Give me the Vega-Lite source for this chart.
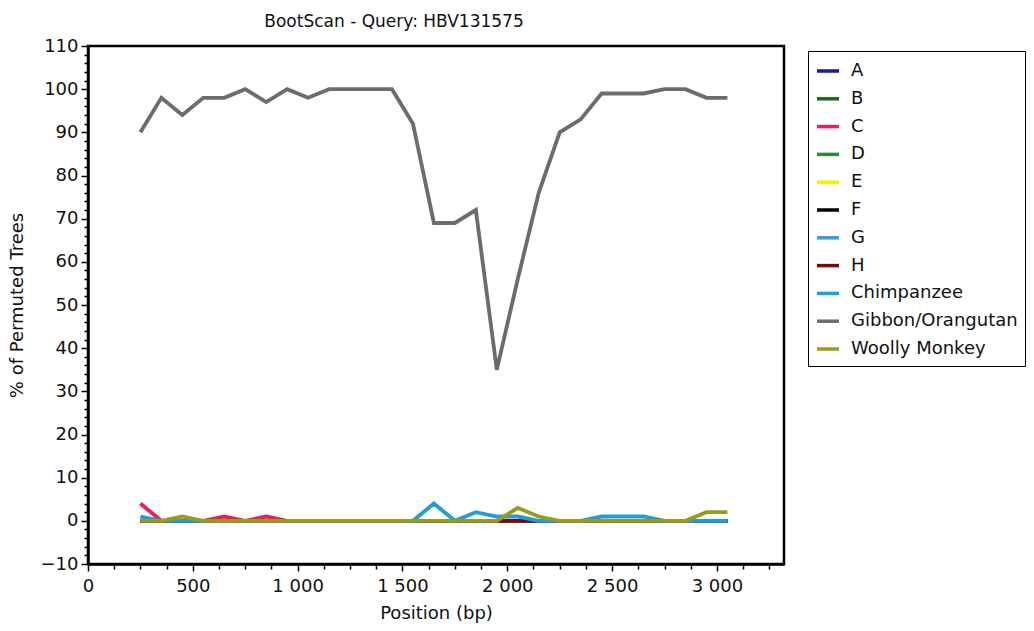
{
  "$schema": "https://vega.github.io/schema/vega-lite/v6.json",
  "autosize": {"type": "none"},
  "padding": {"left": 88, "top": 46, "right": 250, "bottom": 67},
  "width": 696,
  "height": 518,
  "background": "white",
  "title": {"text": "BootScan - Query: HBV131575", "font": "DejaVu Sans", "fontSize": 17, "fontWeight": "normal", "color": "#111", "anchor": "middle", "dx": -42, "offset": 6},
  "config": {
    "view": {"stroke": "black", "strokeWidth": 2.5},
    "font": "DejaVu Sans",
    "axis": {"grid": false, "domainColor": "black", "domainWidth": 2.5, "tickColor": "black", "tickWidth": 1.5, "labelFont": "DejaVu Sans", "labelFontSize": 18, "labelColor": "#111", "titleFont": "DejaVu Sans", "titleFontSize": 18, "titleFontWeight": "normal", "titleColor": "#111"},
    "legend": {"labelFont": "DejaVu Sans", "labelFontSize": 18, "labelColor": "#111"}
  },
  "data": {"values": [
    {"pos": 250, "A": 0, "B": 0, "C": 4, "D": 0, "E": 0, "F": 0, "G": 0, "H": 0, "Chimpanzee": 1, "Gibbon/Orangutan": 90, "Woolly Monkey": 0},
    {"pos": 350, "A": 0, "B": 0, "C": 0, "D": 0, "E": 0, "F": 0, "G": 0, "H": 0, "Chimpanzee": 0, "Gibbon/Orangutan": 98, "Woolly Monkey": 0},
    {"pos": 450, "A": 0, "B": 0, "C": 0, "D": 0, "E": 0, "F": 0, "G": 0, "H": 0, "Chimpanzee": 0, "Gibbon/Orangutan": 94, "Woolly Monkey": 1},
    {"pos": 550, "A": 0, "B": 0, "C": 0, "D": 0, "E": 0, "F": 0, "G": 0, "H": 0, "Chimpanzee": 0, "Gibbon/Orangutan": 98, "Woolly Monkey": 0},
    {"pos": 650, "A": 0, "B": 0, "C": 1, "D": 0, "E": 0, "F": 0, "G": 0, "H": 0, "Chimpanzee": 0, "Gibbon/Orangutan": 98, "Woolly Monkey": 0},
    {"pos": 750, "A": 0, "B": 0, "C": 0, "D": 0, "E": 0, "F": 0, "G": 0, "H": 0, "Chimpanzee": 0, "Gibbon/Orangutan": 100, "Woolly Monkey": 0},
    {"pos": 850, "A": 0, "B": 0, "C": 1, "D": 0, "E": 0, "F": 0, "G": 0, "H": 0, "Chimpanzee": 0, "Gibbon/Orangutan": 97, "Woolly Monkey": 0},
    {"pos": 950, "A": 0, "B": 0, "C": 0, "D": 0, "E": 0, "F": 0, "G": 0, "H": 0, "Chimpanzee": 0, "Gibbon/Orangutan": 100, "Woolly Monkey": 0},
    {"pos": 1050, "A": 0, "B": 0, "C": 0, "D": 0, "E": 0, "F": 0, "G": 0, "H": 0, "Chimpanzee": 0, "Gibbon/Orangutan": 98, "Woolly Monkey": 0},
    {"pos": 1150, "A": 0, "B": 0, "C": 0, "D": 0, "E": 0, "F": 0, "G": 0, "H": 0, "Chimpanzee": 0, "Gibbon/Orangutan": 100, "Woolly Monkey": 0},
    {"pos": 1250, "A": 0, "B": 0, "C": 0, "D": 0, "E": 0, "F": 0, "G": 0, "H": 0, "Chimpanzee": 0, "Gibbon/Orangutan": 100, "Woolly Monkey": 0},
    {"pos": 1350, "A": 0, "B": 0, "C": 0, "D": 0, "E": 0, "F": 0, "G": 0, "H": 0, "Chimpanzee": 0, "Gibbon/Orangutan": 100, "Woolly Monkey": 0},
    {"pos": 1450, "A": 0, "B": 0, "C": 0, "D": 0, "E": 0, "F": 0, "G": 0, "H": 0, "Chimpanzee": 0, "Gibbon/Orangutan": 100, "Woolly Monkey": 0},
    {"pos": 1550, "A": 0, "B": 0, "C": 0, "D": 0, "E": 0, "F": 0, "G": 0, "H": 0, "Chimpanzee": 0, "Gibbon/Orangutan": 92, "Woolly Monkey": 0},
    {"pos": 1650, "A": 0, "B": 0, "C": 0, "D": 0, "E": 0, "F": 0, "G": 0, "H": 0, "Chimpanzee": 4, "Gibbon/Orangutan": 69, "Woolly Monkey": 0},
    {"pos": 1750, "A": 0, "B": 0, "C": 0, "D": 0, "E": 0, "F": 0, "G": 0, "H": 0, "Chimpanzee": 0, "Gibbon/Orangutan": 69, "Woolly Monkey": 0},
    {"pos": 1850, "A": 0, "B": 0, "C": 0, "D": 0, "E": 0, "F": 0, "G": 0, "H": 0, "Chimpanzee": 2, "Gibbon/Orangutan": 72, "Woolly Monkey": 0},
    {"pos": 1950, "A": 0, "B": 0, "C": 0, "D": 0, "E": 0, "F": 0, "G": 0, "H": 0, "Chimpanzee": 1, "Gibbon/Orangutan": 35, "Woolly Monkey": 0},
    {"pos": 2050, "A": 0, "B": 0, "C": 0, "D": 0, "E": 0, "F": 0, "G": 0, "H": 0, "Chimpanzee": 1, "Gibbon/Orangutan": 56, "Woolly Monkey": 3},
    {"pos": 2150, "A": 0, "B": 0, "C": 0, "D": 0, "E": 0, "F": 0, "G": 0, "H": 0, "Chimpanzee": 0, "Gibbon/Orangutan": 76, "Woolly Monkey": 1},
    {"pos": 2250, "A": 0, "B": 0, "C": 0, "D": 0, "E": 0, "F": 0, "G": 0, "H": 0, "Chimpanzee": 0, "Gibbon/Orangutan": 90, "Woolly Monkey": 0},
    {"pos": 2350, "A": 0, "B": 0, "C": 0, "D": 0, "E": 0, "F": 0, "G": 0, "H": 0, "Chimpanzee": 0, "Gibbon/Orangutan": 93, "Woolly Monkey": 0},
    {"pos": 2450, "A": 0, "B": 0, "C": 0, "D": 0, "E": 0, "F": 0, "G": 0, "H": 0, "Chimpanzee": 1, "Gibbon/Orangutan": 99, "Woolly Monkey": 0},
    {"pos": 2550, "A": 0, "B": 0, "C": 0, "D": 0, "E": 0, "F": 0, "G": 0, "H": 0, "Chimpanzee": 1, "Gibbon/Orangutan": 99, "Woolly Monkey": 0},
    {"pos": 2650, "A": 0, "B": 0, "C": 0, "D": 0, "E": 0, "F": 0, "G": 0, "H": 0, "Chimpanzee": 1, "Gibbon/Orangutan": 99, "Woolly Monkey": 0},
    {"pos": 2750, "A": 0, "B": 0, "C": 0, "D": 0, "E": 0, "F": 0, "G": 0, "H": 0, "Chimpanzee": 0, "Gibbon/Orangutan": 100, "Woolly Monkey": 0},
    {"pos": 2850, "A": 0, "B": 0, "C": 0, "D": 0, "E": 0, "F": 0, "G": 0, "H": 0, "Chimpanzee": 0, "Gibbon/Orangutan": 100, "Woolly Monkey": 0},
    {"pos": 2950, "A": 0, "B": 0, "C": 0, "D": 0, "E": 0, "F": 0, "G": 0, "H": 0, "Chimpanzee": 0, "Gibbon/Orangutan": 98, "Woolly Monkey": 2},
    {"pos": 3050, "A": 0, "B": 0, "C": 0, "D": 0, "E": 0, "F": 0, "G": 0, "H": 0, "Chimpanzee": 0, "Gibbon/Orangutan": 98, "Woolly Monkey": 2}
  ]},
  "transform": [
    {"fold": ["A", "B", "C", "D", "E", "F", "G", "H", "Chimpanzee", "Gibbon/Orangutan", "Woolly Monkey"], "as": ["series", "value"]}
  ],
  "mark": {"type": "line", "strokeWidth": 3.8, "strokeJoin": "miter", "clip": true},
  "encoding": {
    "x": {
      "field": "pos", "type": "quantitative", "title": "Position (bp)",
      "scale": {"domain": [0, 3320], "nice": false, "zero": false},
      "axis": {
        "values": [0, 125, 250, 375, 500, 625, 750, 875, 1000, 1125, 1250, 1375, 1500, 1625, 1750, 1875, 2000, 2125, 2250, 2375, 2500, 2625, 2750, 2875, 3000, 3125, 3250],
        "labelExpr": "datum.value % 500 === 0 ? replace(format(datum.value, ','), ',', ' ') : ''",
        "labelOverlap": false,
        "labelFlush": false,
        "tickSize": {"condition": {"test": "datum.value % 500 === 0", "value": 7}, "value": 5},
        "labelPadding": 6,
        "titlePadding": 9
      }
    },
    "y": {
      "field": "value", "type": "quantitative", "title": "% of Permuted Trees",
      "scale": {"domain": [-10, 110], "nice": false, "zero": false},
      "axis": {
        "values": [-10, -8, -6, -4, -2, 0, 2, 4, 6, 8, 10, 12, 14, 16, 18, 20, 22, 24, 26, 28, 30, 32, 34, 36, 38, 40, 42, 44, 46, 48, 50, 52, 54, 56, 58, 60, 62, 64, 66, 68, 70, 72, 74, 76, 78, 80, 82, 84, 86, 88, 90, 92, 94, 96, 98, 100, 102, 104, 106, 108, 110],
        "labelExpr": "datum.value % 10 === 0 ? datum.label : ''",
        "labelOverlap": false,
        "labelFlush": false,
        "tickSize": {"condition": {"test": "datum.value % 10 === 0", "value": 7}, "value": 4},
        "labelPadding": 3,
        "titlePadding": 14
      }
    },
    "color": {
      "field": "series", "type": "nominal",
      "scale": {
        "domain": ["A", "B", "C", "D", "E", "F", "G", "H", "Chimpanzee", "Gibbon/Orangutan", "Woolly Monkey"],
        "range": ["#1a1aa0", "#1c6b1c", "#e8205a", "#2a8a3a", "#f2f200", "#000000", "#2aa3d6", "#7a0a0a", "#1e9fd6", "#6a6c70", "#9c9a1c"]
      },
      "legend": {
        "title": null,
        "orient": "none",
        "legendX": 720,
        "legendY": 5,
        "symbolType": "stroke",
        "symbolSize": 484,
        "symbolStrokeWidth": 3.5,
        "labelOffset": 10,
        "rowPadding": 5.8,
        "padding": 7,
        "strokeColor": "black",
        "fillColor": "white",
        "labelLimit": 300
      }
    }
  }
}
